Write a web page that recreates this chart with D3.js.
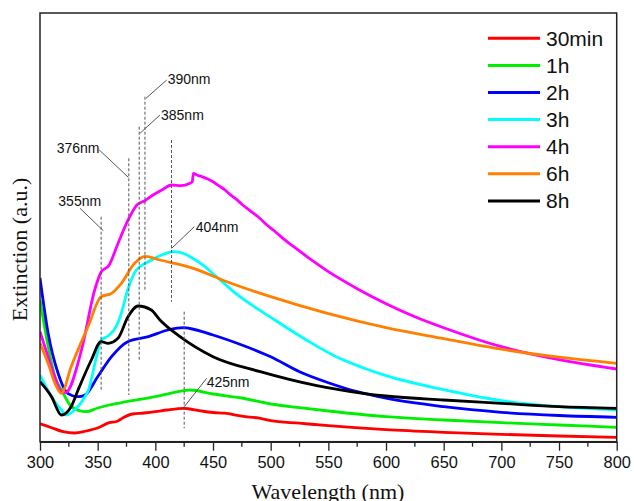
<!DOCTYPE html>
<html>
<head>
<meta charset="utf-8">
<script src="https://cdn.jsdelivr.net/npm/d3@7"></script>
<style>
html,body{margin:0;padding:0;background:#fff;}
svg{display:block;}
</style>
</head>
<body>
<svg id="chart" width="634" height="501"></svg>
<script>
// ---------- DATA ----------
const seriesNames = ["30min","1h","2h","3h","4h","6h","8h"];
const xTicks = [300,350,400,450,500,550,600,650,700,750,800];

const s30min = [[300,0.18],[310,0.14],[320,0.10],[330,0.087],[340,0.107],[350,0.137],[360,0.19],[367,0.205],[372,0.24],[380,0.277],[390,0.287],[400,0.30],[410,0.317],[425,0.334],[430,0.327],[440,0.307],[450,0.292],[460,0.285],[475,0.255],[490,0.235],[500,0.21],[525,0.185],[550,0.16],[600,0.12],[650,0.094],[700,0.074],[750,0.057],[800,0.044]];
const s1h = [[300,1.417],[306,1.017],[313,0.65],[320,0.487],[326,0.367],[334,0.31],[340,0.30],[350,0.337],[360,0.367],[375,0.40],[400,0.45],[425,0.51],[430,0.517],[450,0.477],[475,0.437],[500,0.377],[525,0.34],[550,0.307],[600,0.25],[650,0.217],[700,0.19],[750,0.167],[800,0.144]];
const s2h = [[300,1.637],[307,1.087],[315.6,0.687],[324,0.484],[333,0.45],[339,0.467],[350,0.65],[362,0.85],[376,1.0],[394,1.05],[411,1.117],[425,1.14],[430,1.132],[450,1.067],[475,0.967],[500,0.85],[525,0.70],[550,0.59],[575,0.50],[600,0.435],[650,0.35],[700,0.294],[750,0.262],[800,0.244]];
const s3h = [[300,0.667],[310,0.45],[318.5,0.317],[323,0.267],[330,0.317],[339,0.45],[342,0.517],[349,0.85],[353,1.017],[359,1.057],[366,1.15],[370.5,1.284],[376,1.517],[383.5,1.717],[394,1.80],[405,1.865],[416,1.90],[425,1.88],[433,1.83],[442,1.76],[450,1.68],[460,1.58],[470,1.48],[491,1.31],[510,1.17],[532,1.01],[555,0.86],[580,0.74],[600,0.66],[650,0.52],[700,0.41],[750,0.35],[800,0.317]];
const s4h = [[300,1.10],[307,0.85],[312.7,0.65],[318.5,0.50],[322,0.49],[336,0.917],[347.4,1.517],[353,1.697],[360,1.767],[366.5,1.95],[375,2.184],[384,2.367],[391,2.41],[398,2.467],[406,2.52],[414,2.567],[422,2.56],[430,2.584],[432,2.60],[433,2.684],[436,2.667],[440,2.652],[445,2.63],[450,2.60],[455,2.56],[460,2.52],[465,2.47],[470,2.425],[475,2.375],[482,2.31],[490,2.24],[497,2.165],[505,2.09],[512,2.02],[520,1.95],[535,1.82],[550,1.70],[575,1.53],[600,1.38],[625,1.25],[650,1.14],[700,0.95],[750,0.82],[800,0.727]];
const s6h = [[300,0.987],[307,0.784],[313,0.584],[318.5,0.484],[327,0.75],[341.6,1.15],[353,1.45],[362,1.484],[370.5,1.584],[382,1.784],[391,1.854],[404,1.817],[433,1.734],[462,1.60],[500,1.45],[550,1.28],[600,1.14],[650,1.03],[700,0.925],[750,0.845],[800,0.784]];
const s8h = [[300,0.60],[310,0.45],[318.5,0.267],[327,0.35],[333,0.517],[344.5,0.817],[353,1.0],[359,0.984],[367.6,1.034],[376.3,1.25],[385,1.357],[396.5,1.317],[404,1.217],[421.4,1.05],[450,0.85],[491,0.70],[540,0.56],[580,0.484],[600,0.457],[650,0.417],[700,0.384],[750,0.35],[800,0.334]];
const allSeries = [s30min, s1h, s2h, s3h, s4h, s6h, s8h];

const peakLabels = ["355nm","376nm","385nm","390nm","404nm","425nm"];
const peakLineX = [353, 377, 386, 391, 414, 425];

// ---------- LAYOUT / STYLE ----------
const colors = ["#ff0000","#00ee00","#0000ff","#00ffff","#ff00ff","#ff8000","#000000"];
const L = 40, R = 616.7, T = 13, B = 441.7;
const svg = d3.select("#chart");
const x = d3.scaleLinear().domain([300,800]).range([L,R]);
const y = d3.scaleLinear().domain([0,4.287]).range([B,T]);

// curves
const line = d3.line().x(d=>x(d[0])).y(d=>y(d[1])).curve(d3.curveMonotoneX);
svg.append("clipPath").attr("id","clip").append("rect")
  .attr("x",L).attr("y",T).attr("width",R-L).attr("height",B-T);
const g = svg.append("g").attr("clip-path","url(#clip)");
allSeries.forEach((s,i)=>{
  g.append("path").datum(s).attr("d",line)
   .attr("fill","none").attr("stroke",colors[i]).attr("stroke-width",2.8)
   .attr("stroke-linejoin","round");
});

// annotations (geometry in data coordinates)
const annoGeom = [
  {top:2.25, bot:0.517, l1:[334.7,2.334], l2:[354.9,2.11], tx:315.9, ty:2.407},
  {top:2.834, bot:0.467, l1:[351.4,2.917], l2:[376.6,2.644], tx:314.5, ty:2.934},
  {top:3.15, bot:0.80, l1:[404,3.267], l2:[386.7,3.084], tx:404.9, ty:3.267},
  {top:3.45, bot:1.50, l1:[409.9,3.617], l2:[391.9,3.434], tx:410.7, ty:3.627},
  {top:3.017, bot:1.40, l1:[433.8,2.15], l2:[414.2,1.934], tx:435, ty:2.15},
  {top:1.30, bot:0.134, l1:[444.5,0.634], l2:[425.1,0.35], tx:444.5, ty:0.60}
];
const ag = svg.append("g");
peakLineX.forEach((w,i)=>{
  const a = annoGeom[i];
  ag.append("line").attr("x1",x(w)).attr("x2",x(w)).attr("y1",y(a.top)).attr("y2",y(a.bot))
    .attr("stroke","#555").attr("stroke-width",1).attr("stroke-dasharray","3,2");
  ag.append("line").attr("x1",x(a.l1[0])).attr("y1",y(a.l1[1])).attr("x2",x(a.l2[0])).attr("y2",y(a.l2[1]))
    .attr("stroke","#555").attr("stroke-width",1);
  ag.append("text").attr("x",x(a.tx)).attr("y",y(a.ty)).attr("dy","0.35em")
    .attr("font-family","Liberation Sans, Arial, sans-serif").attr("font-size",14)
    .attr("fill","#111").text(peakLabels[i]);
});

// frame
svg.append("rect").attr("x",L).attr("y",T).attr("width",R-L).attr("height",B-T)
  .attr("fill","none").attr("stroke","#222").attr("stroke-width",1.5);

// x axis
const minor = d3.range(325,800,50);
svg.append("g").selectAll("line.minor").data(minor).join("line")
  .attr("x1",d=>x(d)).attr("x2",d=>x(d)).attr("y1",B).attr("y2",B+5)
  .attr("stroke","#222").attr("stroke-width",1.3);
const xAxis = d3.axisBottom(x).tickValues(xTicks).tickSize(9).tickSizeOuter(0).tickPadding(6);
const xa = svg.append("g").attr("transform",`translate(0,${B})`).call(xAxis);
xa.select(".domain").attr("stroke","#222").attr("stroke-width",1.5);
xa.selectAll(".tick line").attr("stroke","#222").attr("stroke-width",1.3);
xa.selectAll(".tick text").attr("font-family","Liberation Sans, Arial, sans-serif")
  .attr("font-size",16.4).attr("fill","#111");

// axis titles
svg.append("text").attr("x",328).attr("y",499).attr("text-anchor","middle")
  .attr("font-family","Liberation Serif, Times New Roman, serif").attr("font-size",22)
  .attr("fill","#111").text("Wavelength (nm)");
svg.append("text").attr("transform","translate(27,249.5) rotate(-90)").attr("text-anchor","middle")
  .attr("font-family","Liberation Serif, Times New Roman, serif").attr("font-size",22)
  .attr("fill","#111").text("Extinction (a.u.)");

// legend
const lg = svg.append("g");
seriesNames.forEach((n,i)=>{
  const yy = 38.3 + i*27.1;
  lg.append("line").attr("x1",488).attr("x2",540).attr("y1",yy).attr("y2",yy)
    .attr("stroke",colors[i]).attr("stroke-width",3);
  lg.append("text").attr("x",546).attr("y",yy).attr("dy","0.36em")
    .attr("font-family","Liberation Sans, Arial, sans-serif").attr("font-size",21)
    .attr("fill","#111").text(n);
});
</script>
</body>
</html>
